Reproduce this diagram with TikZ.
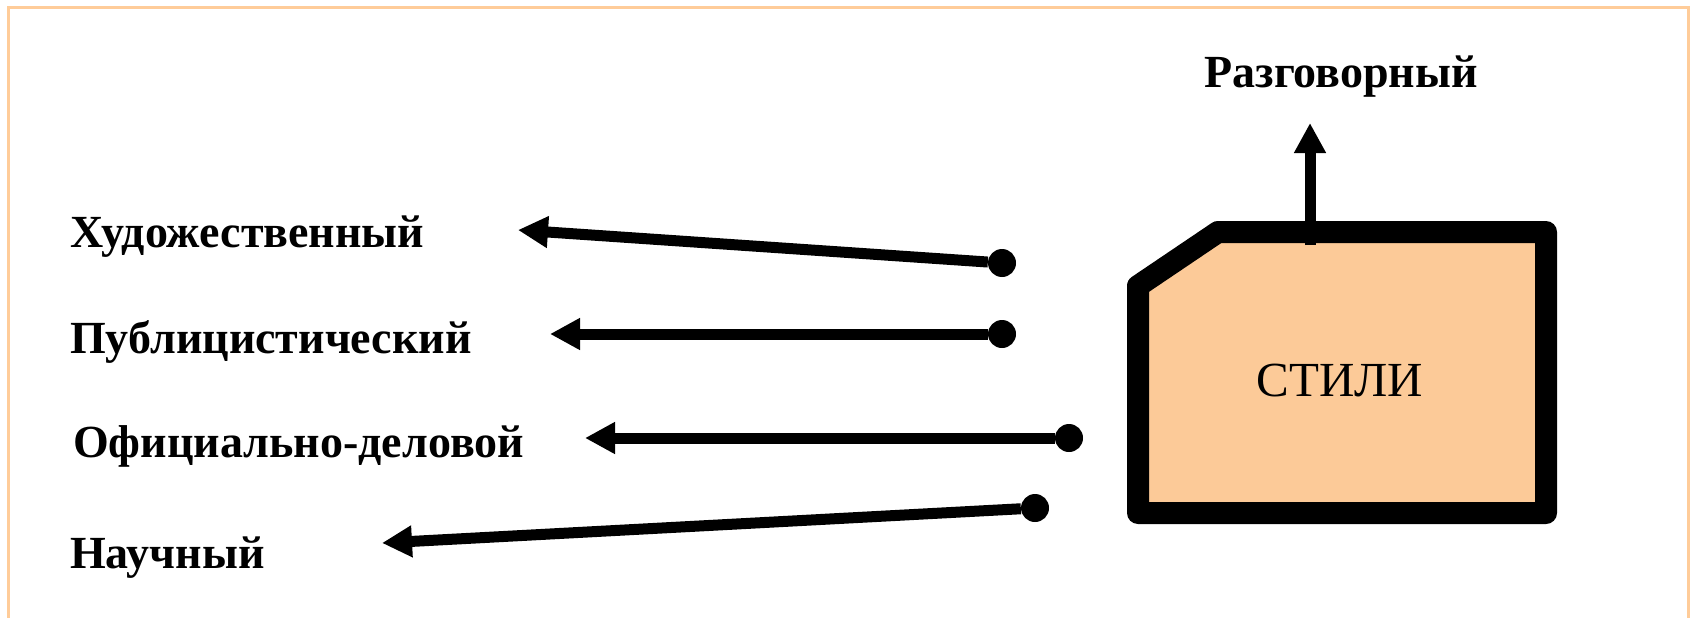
\documentclass[tikz,border=0pt]{standalone}
\usepackage{fontspec}
\setmainfont{Liberation Serif}
\usetikzlibrary{positioning, arrows.meta}
\definecolor{peach}{RGB}{252,202,152}
\definecolor{framecol}{RGB}{255,204,153}

\begin{document}
\begin{tikzpicture}[x=1pt,y=-1pt,
    lbl/.style={font=\fontsize{46}{50}\selectfont\bfseries,inner sep=0pt,
                text height=31pt,text depth=0pt},
    dot/.style={circle,fill=black,inner sep=0pt,minimum size=28pt},
    link/.style={line width=11pt,-{Triangle[length=30pt,width=30pt]}},
    card/.style={draw,line width=22pt,line join=round,fill=peach}]
  \useasboundingbox (0,0) rectangle (1694,618);
  \draw[framecol,line width=3pt] (8.5,618) -- (8.5,7.5) -- (1688,7.5) -- (1688,618);

  % box with the cut corner
  \draw[card] (1138,286) -- (1218,232) -- (1546,232) -- (1546,513) -- (1138,513) -- cycle;
  \node[font=\fontsize{49}{50}\selectfont,inner sep=0pt] (box) at (1340,381) {СТИЛИ};
  \node[lbl] (raz) at (1341,72) {Разговорный};

  \node[lbl,anchor=base west] (hud) at (70,247) {Художественный};
  \node[lbl,below=106pt of hud.base west,anchor=base west] (pub) {Публицистический};
  \node[lbl,below=104pt of pub.base west,anchor=base west,xshift=3pt] (ofi) {Официально-деловой};
  \node[lbl,below=111pt of ofi.base west,anchor=base west,xshift=-3pt] (nau) {Научный};

  \node[dot] (hudDot) at (1002,263) {};
  \node[dot] (pubDot) at (1002,334) {};
  \node[dot] (ofiDot) at (1069,438) {};
  \node[dot] (nauDot) at (1035,508) {};
  \coordinate (hudTip) at (518,230);
  \coordinate (pubTip) at (550,334);
  \coordinate (ofiTip) at (585,438);
  \coordinate (nauTip) at (382,543);
  \coordinate (razFoot) at (1310,245);
  \coordinate (razTip) at (1310,123);

  \path
  (hudDot) edge[link] (hudTip)
  (pubDot) edge[link] (pubTip)
  (ofiDot) edge[link] (ofiTip)
  (nauDot) edge[link] (nauTip)
  (razFoot) edge[link] (razTip)
  ;
\end{tikzpicture}
\end{document}
